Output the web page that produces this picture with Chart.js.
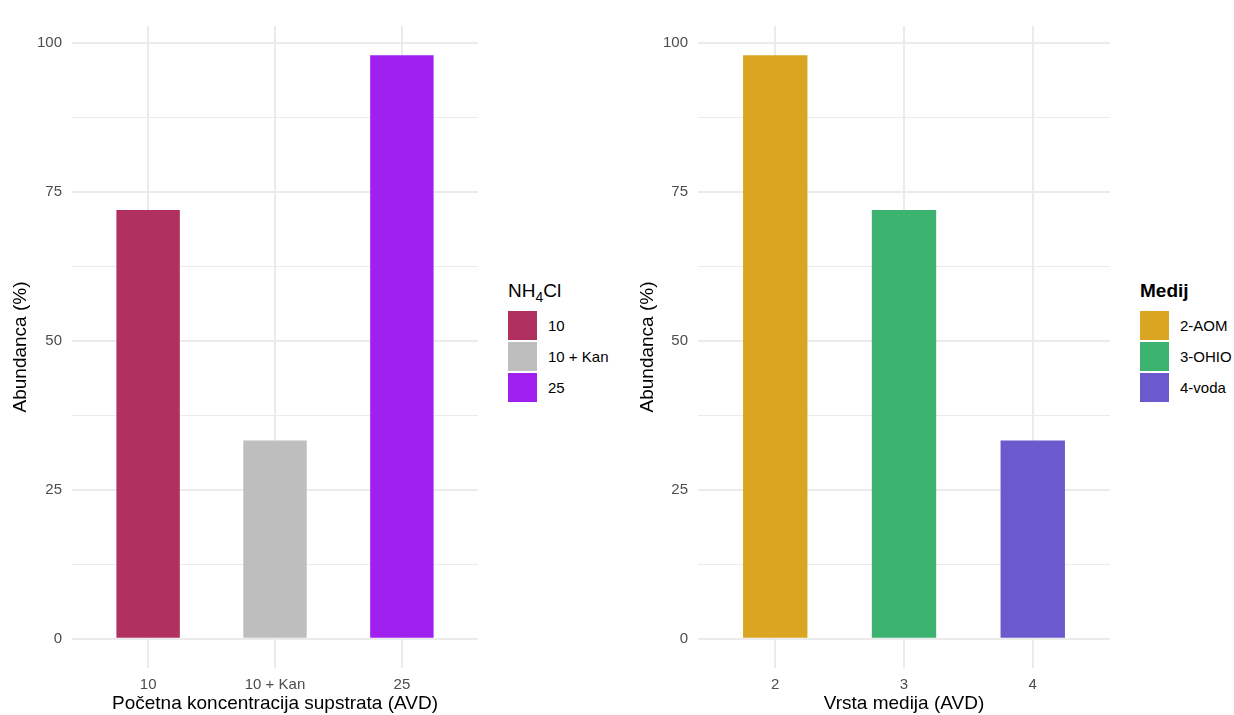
<!DOCTYPE html>
<html>
<head>
<meta charset="utf-8">
<script src="https://cdn.jsdelivr.net/npm/chart.js@4"></script>
<style>
  body { margin: 0; background: #fff; font-family: "Liberation Sans", Arial, sans-serif; }
  #wrap { position: relative; width: 1234px; height: 715px; }
  .panel { position: absolute; top: 0; height: 715px; }
  .legend { position: absolute; top: 280px; color: #000; }
  .legend .title { font-size: 19px; line-height: 22px; margin-bottom: 9px; white-space: nowrap; }
  .legend .title sub { font-size: 14px; line-height: 0; }
  .legend .row { display: flex; align-items: center; height: 29px; margin-bottom: 2px; }
  .legend .key { width: 29px; height: 29px; margin-right: 11px; }
  .legend .lab { font-size: 15px; white-space: nowrap; }
</style>
</head>
<body>
<div id="wrap">
  <div class="panel" style="left:0; width:490px;"><canvas id="leftChart"></canvas></div>
  <div class="panel" style="left:627px; width:493px;"><canvas id="rightChart"></canvas></div>
  <div class="legend" id="leftLegend" style="left:508px;"></div>
  <div class="legend" id="rightLegend" style="left:1140px;"></div>
</div>
<script>
// lijevi panel: NH4Cl
const leftCategories = ['10', '10 + Kan', '25'];
const leftValues = [72, 33.3, 98];
const leftColors = ['#B03060', '#BEBEBE', '#A020F0'];

// desni panel: medij
const rightCategories = ['2', '3', '4'];
const rightValues = [98, 72, 33.3];
const rightColors = ['#DAA520', '#3CB371', '#6A5ACD'];
const rightLegendLabels = ['2-AOM', '3-OHIO', '4-voda'];

const yTicks = [0, 25, 50, 75, 100];
const yMinor = [12.5, 37.5, 62.5, 87.5];

function makeChart(id, cats, vals, cols, xTitle, yWidth, padRight) {
  const yGrid = yTicks.concat(yMinor).sort((a, b) => a - b);
  return new Chart(document.getElementById(id), {
    type: 'bar',
    data: {
      datasets: [{
        data: cats.map((c, i) => ({ x: i, y: vals[i] })),
        backgroundColor: cols,
        borderWidth: 0,
        barPercentage: 0.5,
        categoryPercentage: 1
      }]
    },
    options: {
      responsive: true,
      maintainAspectRatio: false,
      animation: false,
      layout: { padding: { top: 26, right: padRight, bottom: 0, left: 0 } },
      plugins: { legend: { display: false }, tooltip: { enabled: false } },
      scales: {
        x: {
          type: 'linear',
          min: -0.6,
          max: cats.length - 0.4,
          offset: false,
          afterBuildTicks: s => { s.ticks = cats.map((c, i) => ({ value: i })); },
          afterFit: s => { s.height = 47; },
          ticks: {
            callback: v => cats[v],
            color: '#4d4d4d',
            font: { size: 15 },
            padding: 8,
            maxRotation: 0,
            autoSkip: false
          },
          grid: { color: '#ebebeb', lineWidth: 2, drawTicks: false, offset: false },
          border: { display: false },
          title: { display: true, text: xTitle, color: '#000', font: { size: 19 }, padding: { top: 0, bottom: 0 } }
        },
        y: {
          min: -4.9,
          max: 102.9,
          afterBuildTicks: s => { s.ticks = yGrid.map(v => ({ value: v })); },
          afterFit: s => { s.width = yWidth; },
          ticks: {
            callback: v => yTicks.includes(v) ? v : '',
            color: '#4d4d4d',
            font: { size: 15 },
            padding: 10,
            autoSkip: false
          },
          grid: {
            color: '#ebebeb',
            lineWidth: c => yTicks.includes(c.tick.value) ? 2 : 1,
            drawTicks: false
          },
          border: { display: false },
          title: { display: true, text: 'Abundanca (%)', color: '#000', font: { size: 19 }, padding: { top: 9.6, bottom: 0 } }
        }
      }
    }
  });
}

function buildLegend(id, titleHtml, labels, cols) {
  const el = document.getElementById(id);
  let html = '<div class="title">' + titleHtml + '</div>';
  labels.forEach((l, i) => {
    html += '<div class="row"><div class="key" style="background:' + cols[i] + '"></div><div class="lab">' + l + '</div></div>';
  });
  el.innerHTML = html;
}

Chart.defaults.font.family = '"Liberation Sans", Arial, sans-serif';

makeChart('leftChart', leftCategories, leftValues, leftColors, 'Početna koncentracija supstrata (AVD)', 72, 12);
makeChart('rightChart', rightCategories, rightValues, rightColors, 'Vrsta medija (AVD)', 71, 10);

buildLegend('leftLegend', 'NH<sub>4</sub>Cl', leftCategories, leftColors);
buildLegend('rightLegend', '<b>Medij</b>', rightLegendLabels, rightColors);
</script>
</body>
</html>
